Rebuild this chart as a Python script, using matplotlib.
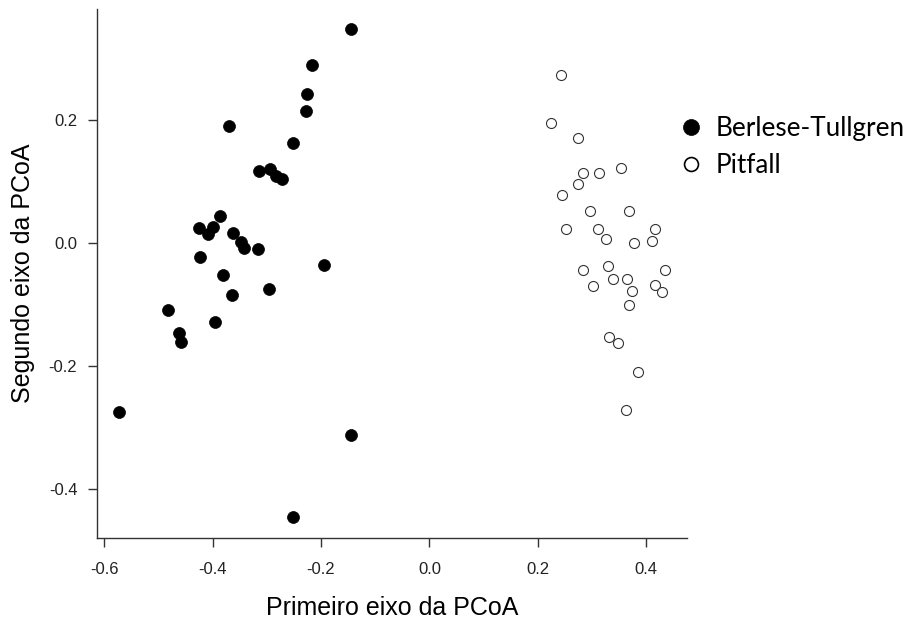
import matplotlib
matplotlib.use("Agg")
import matplotlib.pyplot as plt
from matplotlib.lines import Line2D

# PCoA scores per sampling method
berlese_x = [-0.145, -0.216, -0.226, -0.228, -0.370, -0.252, -0.315, -0.294, -0.282, -0.272,
             -0.386, -0.425, -0.400, -0.408, -0.362, -0.347, -0.342, -0.316, -0.423, -0.194,
             -0.380, -0.364, -0.295, -0.482, -0.395, -0.461, -0.459, -0.572, -0.145, -0.252]
berlese_y = [0.347, 0.288, 0.242, 0.214, 0.189, 0.162, 0.116, 0.119, 0.108, 0.103,
             0.043, 0.024, 0.026, 0.014, 0.015, 0.001, -0.009, -0.010, -0.024, -0.037,
             -0.052, -0.085, -0.075, -0.110, -0.129, -0.146, -0.162, -0.275, -0.312, -0.446]

pitfall_x = [0.243, 0.224, 0.275, 0.284, 0.313, 0.353, 0.274, 0.244, 0.296, 0.368,
             0.252, 0.311, 0.325, 0.377, 0.416, 0.410, 0.283, 0.329, 0.339, 0.364,
             0.373, 0.301, 0.435, 0.416, 0.429, 0.368, 0.331, 0.347, 0.384, 0.363]
pitfall_y = [0.272, 0.194, 0.170, 0.113, 0.114, 0.122, 0.095, 0.078, 0.052, 0.052,
             0.023, 0.023, 0.006, 0.000, 0.022, 0.003, -0.044, -0.038, -0.059, -0.059,
             -0.078, -0.071, -0.045, -0.068, -0.080, -0.102, -0.154, -0.163, -0.210, -0.271]

x_ticks = [-0.6, -0.4, -0.2, 0.0, 0.2, 0.4]
y_ticks = [-0.4, -0.2, 0.0, 0.2]
labels = ["Berlese-Tullgren", "Pitfall"]

plt.rcParams['font.family'] = ['Liberation Sans', 'DejaVu Sans']

fig = plt.figure(figsize=(9.17, 6.21), dpi=100)
ax = fig.add_axes([0.1055, 0.1341, 0.6433, 0.8514])

ax.plot(berlese_x, berlese_y, 'o', ms=8.6, mfc='black', mec='black', mew=0.5, ls='none')
ax.plot(pitfall_x, pitfall_y, 'o', ms=7.2, mfc='white', mec='#333333', mew=0.8, ls='none')

ax.set_xlim(-0.6135, 0.4745)
ax.set_ylim(-0.4793, 0.3797)
ax.set_xticks(x_ticks)
ax.set_yticks(y_ticks)
ax.set_xticklabels([f"{t:.1f}" for t in x_ticks])
ax.set_yticklabels([f"{t:.1f}" for t in y_ticks])

# R style "L" box
for side in ['top', 'right']:
    ax.spines[side].set_visible(False)
for side in ['left', 'bottom']:
    ax.spines[side].set_color('#333333')
    ax.spines[side].set_linewidth(1.0)
ax.tick_params(axis='both', direction='out', length=6.5, width=1.0, color='#333333',
               labelsize=12, labelcolor='#222222')
ax.tick_params(axis='x', pad=11)
ax.tick_params(axis='y', pad=7.5)

ax.set_xlabel("Primeiro eixo da PCoA", fontsize=18, labelpad=14)
ax.set_ylabel("Segundo eixo da PCoA", fontsize=18, labelpad=10)

handles = [
    Line2D([], [], marker='o', ls='none', ms=11.5, mfc='black', mec='black', mew=0.5),
    Line2D([], [], marker='o', ls='none', ms=10, mfc='white', mec='black', mew=1.2),
]
fig.legend(handles, labels, loc='center left', bbox_to_anchor=(0.7396, 0.763),
           frameon=False, handlelength=1.0, handletextpad=0.44, labelspacing=0.45,
           borderpad=0, borderaxespad=0, prop={'family': 'Lato', 'size': 18.8})

fig.savefig("out.png", dpi=100)
